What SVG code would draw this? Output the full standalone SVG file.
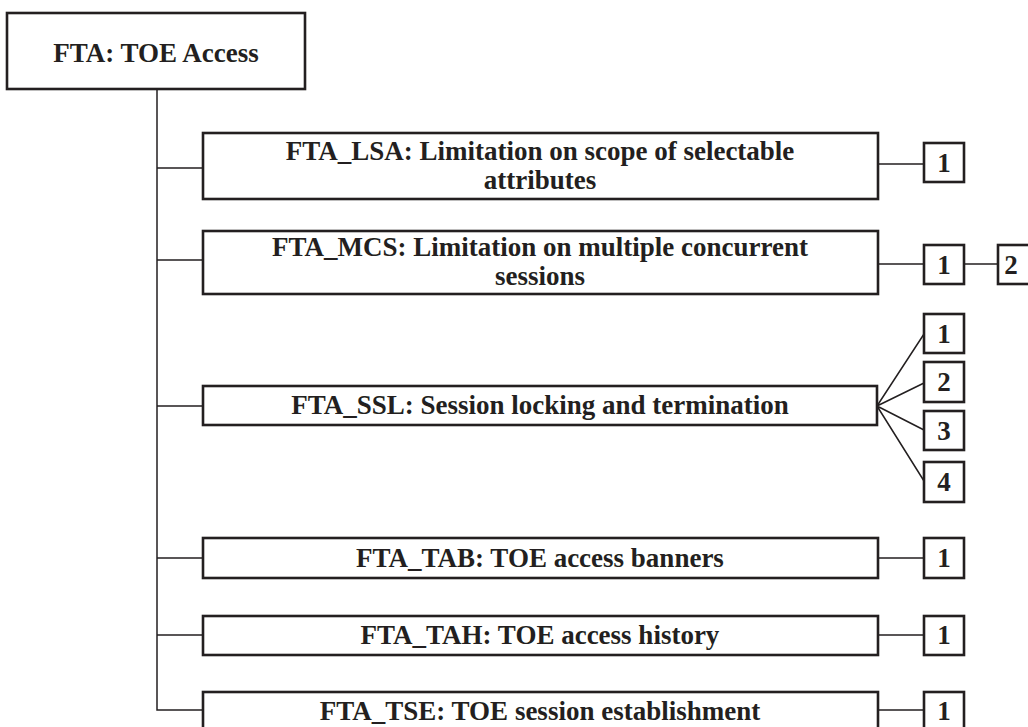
<svg xmlns="http://www.w3.org/2000/svg" width="1028" height="727" viewBox="0 0 1028 727">
<style>
.box{fill:#fff;stroke:#231f20;stroke-width:2.6}
.ln{fill:none;stroke:#231f20;stroke-width:1.5}
text{font-family:"Liberation Serif","Times New Roman",serif;font-weight:bold;font-size:27px;fill:#231f20;text-anchor:middle}
</style>
<rect width="1028" height="727" fill="#fff"/>
<g id="connectors">
<path class="ln" d="M157 89 V710 H203"/>
<path class="ln" d="M157 168 H203 M157 260 H203 M157 406 H203 M157 558 H203 M157 635 H203"/>
<path class="ln" d="M878 164 H924 M878 264 H924 M964 264 H998 M878 558 H924 M878 635 H924 M878 710 H924"/>
<path class="ln" d="M877 406 L924 334 M877 406 L924 383 M877 406 L924 430 M877 406 L924 481"/>
</g>
<g id="root"><rect class="box" x="7" y="13" width="298" height="76"/><text x="156" y="62">FTA: TOE Access</text></g>
<g id="lsa"><rect class="box" x="203" y="133" width="675" height="66"/><text x="540" y="160">FTA_LSA: Limitation on scope of selectable</text><text x="540" y="189">attributes</text></g>
<g id="lsa1"><rect class="box" x="924" y="143" width="40" height="39"/><text x="944" y="172">1</text></g>
<g id="mcs"><rect class="box" x="203" y="231" width="675" height="63"/><text x="540" y="256">FTA_MCS: Limitation on multiple concurrent</text><text x="540" y="285">sessions</text></g>
<g id="mcs1"><rect class="box" x="924" y="245" width="40" height="39"/><text x="944" y="274">1</text></g>
<g id="mcs2"><rect class="box" x="998" y="245" width="40" height="39"/><text x="1011" y="274">2</text></g>
<g id="ssl"><rect class="box" x="203" y="386" width="674" height="39"/><text x="540" y="414">FTA_SSL: Session locking and termination</text></g>
<g id="ssl1"><rect class="box" x="924" y="314" width="40" height="39"/><text x="944" y="343">1</text></g>
<g id="ssl2"><rect class="box" x="924" y="362" width="40" height="40"/><text x="944" y="391">2</text></g>
<g id="ssl3"><rect class="box" x="924" y="411" width="40" height="39"/><text x="944" y="440">3</text></g>
<g id="ssl4"><rect class="box" x="924" y="462" width="40" height="40"/><text x="944" y="491">4</text></g>
<g id="tab"><rect class="box" x="203" y="538" width="675" height="40"/><text x="540" y="567">FTA_TAB: TOE access banners</text></g>
<g id="tab1"><rect class="box" x="924" y="538" width="40" height="40"/><text x="944" y="567">1</text></g>
<g id="tah"><rect class="box" x="203" y="616" width="675" height="39"/><text x="540" y="644">FTA_TAH: TOE access history</text></g>
<g id="tah1"><rect class="box" x="924" y="616" width="40" height="39"/><text x="944" y="644">1</text></g>
<g id="tse"><rect class="box" x="203" y="692" width="675" height="40"/><text x="540" y="720">FTA_TSE: TOE session establishment</text></g>
<g id="tse1"><rect class="box" x="924" y="692" width="40" height="40"/><text x="944" y="720">1</text></g>
</svg>
